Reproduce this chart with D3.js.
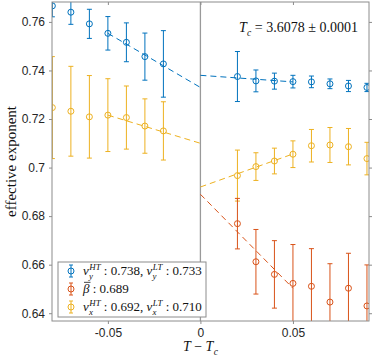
<!DOCTYPE html>
<html>
<head>
<meta charset="utf-8">
<script src="https://cdn.jsdelivr.net/npm/d3@7"></script>
<style>
  body { margin: 0; background: #fff; }
  svg { display: block; }
</style>
</head>
<body>
<div id="chart"></div>
<script>
// data
const xLow = [-0.08, -0.07, -0.06, -0.05, -0.04, -0.03, -0.02];
const xHigh = [0.02, 0.03, 0.04, 0.05, 0.06, 0.07, 0.08, 0.09];

const nuYLow = [0.7666, 0.7640, 0.7592, 0.7553, 0.7516, 0.7457, 0.7427];
const nuYLowErr = [0.0045, 0.0050, 0.0060, 0.0069, 0.0080, 0.0097, 0.0137];
const nuXLow = [0.7247, 0.7232, 0.7209, 0.7216, 0.7206, 0.7171, 0.7151];
const nuXLowErr = [0.0210, 0.0185, 0.0170, 0.0150, 0.0130, 0.0112, 0.0120];

const nuYHigh = [0.7375, 0.7357, 0.7356, 0.7354, 0.7353, 0.7345, 0.7336, 0.7330];
const nuYHighErr = [0.0103, 0.0045, 0.0033, 0.0026, 0.0024, 0.0020, 0.0023, 0.0017];
const nuXHigh = [0.6967, 0.7004, 0.7027, 0.7055, 0.7090, 0.7093, 0.7086, 0.7037];
const nuXHighErr = [0.0105, 0.0057, 0.0053, 0.0055, 0.0067, 0.0072, 0.0075, 0.0067];
const betaHigh = [0.6769, 0.6612, 0.6560, 0.6523, 0.6511, 0.6446, 0.6503, 0.6430];
const betaHighErr = [0.0104, 0.0133, 0.0139, 0.0160, 0.0155, 0.0158, 0.0144, 0.0169];

// linear fits: [x0, y0, x1, y1]
const fitNuYLow = [-0.05, 0.7553, 0, 0.733];
const fitNuYHigh = [0, 0.738, 0.05, 0.7353];
const fitNuXLow = [-0.05, 0.7216, 0, 0.710];
const fitNuXHigh = [0, 0.692, 0.05, 0.7056];
const fitBeta = [0, 0.689, 0.05, 0.6503];

const yTicks = [0.64, 0.66, 0.68, 0.70, 0.72, 0.74, 0.76];
const xTicks = [-0.05, 0, 0.05];

const blue = "#0072BD", red = "#D95319", yellow = "#EDB120";
const axisColor = "#8c8c8c";
const serif = "'Liberation Serif', 'DejaVu Serif', serif";
const sans = "'Liberation Sans', Arial, sans-serif";

const width = 374, height = 356;
const pLeft = 52, pRight = 369, pTop = 2, pBottom = 321;

const svg = d3.select("#chart").append("svg")
  .attr("width", width)
  .attr("height", height);

const x = d3.scaleLinear().domain([-0.0802, 0.0911]).range([pLeft, pRight]);
const y = d3.scaleLinear().domain([0.6368, 0.7682]).range([pBottom, pTop]);

svg.append("clipPath").attr("id", "clip")
  .append("rect")
  .attr("x", pLeft).attr("y", pTop)
  .attr("width", pRight - pLeft).attr("height", pBottom - pTop);

const plot = svg.append("g").attr("clip-path", "url(#clip)");

// x = 0 line
plot.append("line")
  .attr("x1", x(0)).attr("x2", x(0))
  .attr("y1", pTop).attr("y2", pBottom)
  .attr("stroke", "#9a9a9a")
  .attr("stroke-width", 1.3);

function drawFit(f, color) {
  plot.append("line")
    .attr("x1", x(f[0])).attr("y1", y(f[1]))
    .attr("x2", x(f[2])).attr("y2", y(f[3]))
    .attr("stroke", color)
    .attr("stroke-width", 1)
    .attr("stroke-dasharray", "6,4");
}

function drawSeries(xs, ys, es, color) {
  const data = xs.map((d, i) => ({ x: d, y: ys[i], e: es[i] }));
  const g = plot.append("g")
    .attr("stroke", color)
    .attr("fill", "none")
    .attr("stroke-width", 1);
  const pts = g.selectAll("g").data(data).enter().append("g");
  pts.append("line")
    .attr("x1", d => x(d.x)).attr("x2", d => x(d.x))
    .attr("y1", d => y(d.y - d.e)).attr("y2", d => y(d.y + d.e));
  pts.append("line")
    .attr("x1", d => x(d.x) - 2.5).attr("x2", d => x(d.x) + 2.5)
    .attr("y1", d => y(d.y + d.e)).attr("y2", d => y(d.y + d.e));
  pts.append("line")
    .attr("x1", d => x(d.x) - 2.5).attr("x2", d => x(d.x) + 2.5)
    .attr("y1", d => y(d.y - d.e)).attr("y2", d => y(d.y - d.e));
  pts.append("circle")
    .attr("cx", d => x(d.x)).attr("cy", d => y(d.y))
    .attr("r", 3);
}

drawFit(fitNuYLow, blue);
drawFit(fitNuYHigh, blue);
drawFit(fitNuXLow, yellow);
drawFit(fitNuXHigh, yellow);
drawFit(fitBeta, red);

drawSeries(xLow, nuXLow, nuXLowErr, yellow);
drawSeries(xHigh, nuXHigh, nuXHighErr, yellow);
drawSeries(xHigh, betaHigh, betaHighErr, red);
drawSeries(xLow, nuYLow, nuYLowErr, blue);
drawSeries(xHigh, nuYHigh, nuYHighErr, blue);

// axes
const fmt = d => String(+d.toFixed(2));

const yAxis = svg.append("g")
  .attr("transform", `translate(${pLeft},0)`)
  .call(d3.axisLeft(y).tickValues(yTicks).tickFormat(fmt).tickSize(3).tickPadding(4));
const yAxisR = svg.append("g")
  .attr("transform", `translate(${pRight},0)`)
  .call(d3.axisRight(y).tickValues(yTicks).tickFormat("").tickSize(3));
const xAxis = svg.append("g")
  .attr("transform", `translate(0,${pBottom})`)
  .call(d3.axisBottom(x).tickValues(xTicks).tickFormat(fmt).tickSize(3).tickPadding(4));
const xAxisT = svg.append("g")
  .attr("transform", `translate(0,${pTop})`)
  .call(d3.axisBottom(x).tickValues(xTicks).tickFormat("").tickSize(3));

[yAxis, yAxisR, xAxis, xAxisT].forEach(a => {
  a.select(".domain").remove();
  a.selectAll(".tick line").attr("stroke", axisColor);
  a.selectAll(".tick text")
    .attr("fill", "#262626")
    .style("font-family", sans)
    .style("font-size", "12px");
});

svg.append("rect")
  .attr("x", pLeft).attr("y", pTop)
  .attr("width", pRight - pLeft).attr("height", pBottom - pTop)
  .attr("fill", "none")
  .attr("stroke", axisColor)
  .attr("stroke-width", 1);

// simple math text: parts [{s, it, sub, sup, over}]
function mathText(g, x0, y0, parts, size, anchor) {
  const grp = g.append("g");
  let cx = 0;
  const small = size * 0.68;
  parts.forEach(p => {
    const t = grp.append("text")
      .attr("x", cx).attr("y", 0)
      .style("font-family", serif)
      .style("font-size", size + "px")
      .style("font-style", p.it ? "italic" : "normal")
      .style("white-space", "pre")
      .attr("fill", "#111")
      .text(p.s);
    const w = t.node().getComputedTextLength();
    if (p.over) {
      grp.append("line")
        .attr("x1", cx + 1).attr("x2", cx + w + 1)
        .attr("y1", -size * 0.82).attr("y2", -size * 0.82)
        .attr("stroke", "#111").attr("stroke-width", 0.8);
    }
    cx += w;
    let sw = 0;
    if (p.sup) {
      const s = grp.append("text")
        .attr("x", cx + 0.5).attr("y", -size * 0.4)
        .style("font-family", serif)
        .style("font-size", small + "px")
        .style("font-style", "italic")
        .attr("fill", "#111")
        .text(p.sup);
      sw = Math.max(sw, s.node().getComputedTextLength() + 0.5);
    }
    if (p.sub) {
      const s = grp.append("text")
        .attr("x", cx + 0.3).attr("y", size * 0.28)
        .style("font-family", serif)
        .style("font-size", small + "px")
        .style("font-style", "italic")
        .attr("fill", "#111")
        .text(p.sub);
      sw = Math.max(sw, s.node().getComputedTextLength() + 0.3);
    }
    cx += sw;
  });
  const shift = anchor === "middle" ? -cx / 2 : 0;
  grp.attr("transform", `translate(${x0 + shift},${y0})`);
  return grp;
}

// Tc annotation
mathText(svg, 239, 32, [
  { s: "T", it: true, sub: "c" },
  { s: " = 3.6078 ± 0.0001" }
], 14);

// x label
mathText(svg, x(0), 351, [
  { s: "T", it: true },
  { s: " − " },
  { s: "T", it: true, sub: "c" }
], 14, "middle");

// y label
svg.append("text")
  .attr("transform", `translate(16,${(pTop + pBottom) / 2}) rotate(-90)`)
  .attr("text-anchor", "middle")
  .style("font-family", serif)
  .style("font-size", "15px")
  .attr("fill", "#111")
  .text("effective exponent");

// legend
const legend = svg.append("g");
legend.append("rect")
  .attr("x", 58).attr("y", 262)
  .attr("width", 148).attr("height", 55)
  .attr("fill", "#fff")
  .attr("stroke", axisColor)
  .attr("stroke-width", 1);

const legendRows = [
  { color: blue, parts: [
    { s: "ν", it: true, sub: "y", sup: "HT" }, { s: " : 0.738, " },
    { s: "ν", it: true, sub: "y", sup: "LT" }, { s: " : 0.733" }] },
  { color: red, parts: [
    { s: "β", it: true, over: true }, { s: " : 0.689" }] },
  { color: yellow, parts: [
    { s: "ν", it: true, sub: "x", sup: "HT" }, { s: " : 0.692, " },
    { s: "ν", it: true, sub: "x", sup: "LT" }, { s: " : 0.710" }] }
];
const rowY = [271, 289, 307];

legendRows.forEach((r, i) => {
  const cy = rowY[i];
  const m = legend.append("g").attr("stroke", r.color).attr("fill", "none");
  m.append("line").attr("x1", 71).attr("x2", 71).attr("y1", cy - 6).attr("y2", cy + 6);
  m.append("line").attr("x1", 69).attr("x2", 73).attr("y1", cy - 6).attr("y2", cy - 6);
  m.append("line").attr("x1", 69).attr("x2", 73).attr("y1", cy + 6).attr("y2", cy + 6);
  m.append("circle").attr("cx", 71).attr("cy", cy).attr("r", 3);
  mathText(legend, 83, cy + 4, r.parts, 13);
});
</script>
</body>
</html>
